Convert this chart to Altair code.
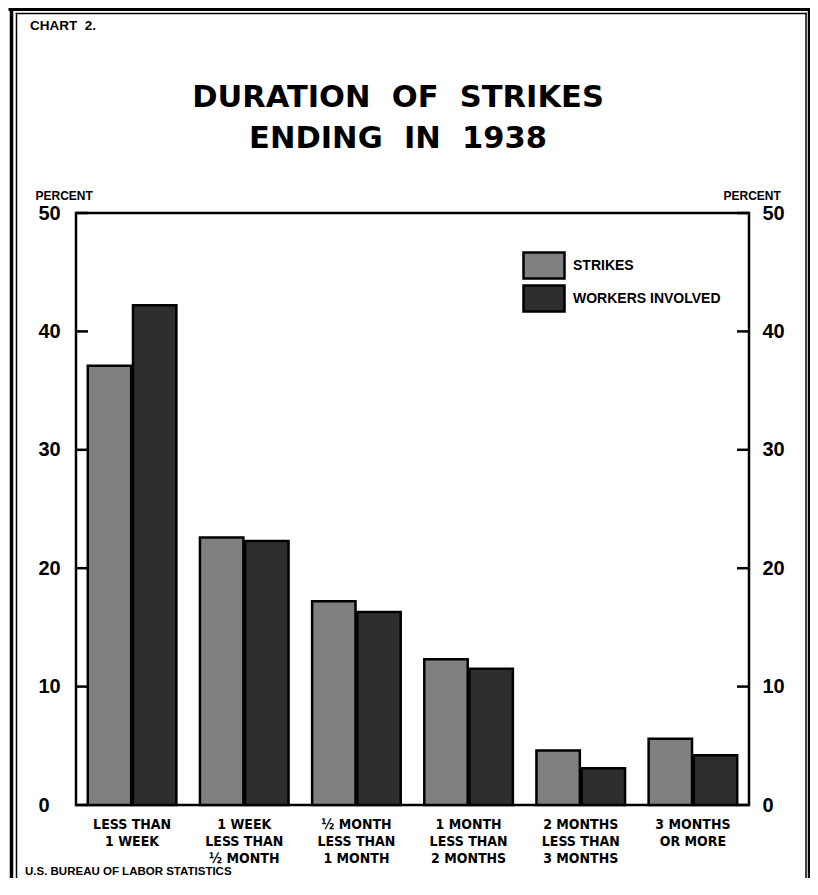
import altair as alt
import pandas as pd

# ---- data ----
categories = [
    "LESS THAN|1 WEEK",
    "1 WEEK|LESS THAN|½ MONTH",
    "½ MONTH|LESS THAN|1 MONTH",
    "1 MONTH|LESS THAN|2 MONTHS",
    "2 MONTHS|LESS THAN|3 MONTHS",
    "3 MONTHS|OR MORE",
]
series_names = ["STRIKES", "WORKERS INVOLVED"]
strikes = [37.1, 22.6, 17.2, 12.3, 4.6, 5.6]
workers = [42.2, 22.3, 16.3, 11.5, 3.1, 4.2]
tick_values = [0, 10, 20, 30, 40, 50]

title_lines = ["DURATION\u00a0 OF\u00a0 STRIKES", "ENDING\u00a0 IN\u00a0 1938"]
chart_label = "CHART\u00a0 2."
source_label = "U.S. BUREAU OF LABOR STATISTICS"

rows = []
for c, s, w in zip(categories, strikes, workers):
    rows.append({"duration": c, "series": series_names[0], "percent": s})
    rows.append({"duration": c, "series": series_names[1], "percent": w})
df = pd.DataFrame(rows)
ticks_df = pd.DataFrame({"tick": tick_values})

W, H = 673, 592
FONT = "Liberation Sans"
NARROW = "Liberation Sans Narrow, DejaVu Sans Condensed, Liberation Sans"
TITLE_FONT = "DejaVu Sans"


def yscale():
    return alt.Scale(domain=[0, 50], nice=False, zero=True)


bars = alt.Chart(df).mark_bar(stroke="black", strokeWidth=2.5, strokeJoin="miter").encode(
    x=alt.X(
        "duration:N", sort=categories, title=None,
        scale=alt.Scale(paddingInner=0.21, paddingOuter=0.105),
        axis=alt.Axis(
            labelExpr="split(datum.label, '|')", ticks=False, domain=False, grid=False,
            labelAngle=0, labelFont=NARROW, labelFontSize=14, labelFontWeight="bold",
            labelLineHeight=17, labelBaseline="top", labelPadding=12, labelColor="black",
        ),
    ),
    xOffset=alt.XOffset("series:N", sort=series_names, scale=alt.Scale(paddingInner=0.04)),
    y=alt.Y(
        "percent:Q", scale=yscale(),
        axis=alt.Axis(
            orient="left", values=tick_values, ticks=False, domain=False, grid=False,
            labelAlign="left", labelPadding=38, labelFontSize=20, labelFont=FONT,
            labelFontWeight="bold", labelColor="black", labelBaseline="middle",
            title="PERCENT", titleAngle=0, titleAlign="left", titleBaseline="alphabetic",
            titleX=-41, titleY=-14, titleFont=FONT, titleFontSize=12,
            titleFontWeight="bold", titleColor="black",
        ),
    ),
    color=alt.Color(
        "series:N", sort=series_names,
        scale=alt.Scale(domain=series_names, range=["#808080", "#2e2e2e"]),
        legend=alt.Legend(
            title=None, orient="none", legendX=453.5, legendY=38,
            symbolType="M-1.577,-1H1.577V1H-1.577Z", symbolSize=676,
            symbolStrokeColor="black", symbolStrokeWidth=2.5, symbolOpacity=1,
            labelFont=FONT, labelFontSize=14, labelFontWeight="bold", labelColor="black",
            labelOffset=14.5, rowPadding=-6, padding=0, direction="vertical",
        ),
    ),
)

left_ticks = alt.Chart(ticks_df).mark_rule(color="black", strokeWidth=2.5).encode(
    y=alt.Y("tick:Q", scale=yscale(), axis=None),
    x=alt.value(0), x2=alt.value(12),
)

right_ticks = alt.Chart(ticks_df).mark_rule(color="black", strokeWidth=2.5).encode(
    y=alt.Y(
        "tick:Q", scale=yscale(),
        axis=alt.Axis(
            orient="right", values=tick_values, ticks=False, domain=False, grid=False,
            labelAlign="left", labelPadding=13, labelFontSize=20, labelFont=FONT,
            labelFontWeight="bold", labelColor="black", labelBaseline="middle",
            title="PERCENT", titleAngle=0, titleAlign="left", titleBaseline="alphabetic",
            titleX=-26, titleY=-14, titleFont=FONT, titleFontSize=12,
            titleFontWeight="bold", titleColor="black",
        ),
    ),
    x=alt.value(W - 12), x2=alt.value(W),
)

one = alt.Data(values=[{"k": 0}])


def frame_line(x1, y1, x2, y2, w):
    return alt.Chart(one).mark_rule(color="black", strokeWidth=w, strokeCap="square").encode(
        x=alt.value(x1), y=alt.value(y1), x2=alt.value(x2), y2=alt.value(y2)
    )


frame = [
    frame_line(-64.5, -203.5, -64.5, 700, 3.5),   # outer left
    frame_line(-59.5, -199.5, -59.5, 700, 1.5),   # inner left
    frame_line(-66, -203.5, 740, -203.5, 3),      # outer top
    frame_line(-59.5, -199.5, 730, -199.5, 1.5),  # inner top
    frame_line(730, -199.5, 730, 700, 1.5),       # inner right
    frame_line(733, -203.5, 733, 700, 2.5),       # outer right
]

chart_text = alt.Chart(one).mark_text(
    text=chart_label, font=FONT, fontSize=13.5, fontWeight="bold", align="left",
    baseline="alphabetic", color="black",
).encode(x=alt.value(-46), y=alt.value(-183))

title_text = alt.Chart(one).mark_text(
    text=title_lines, font=TITLE_FONT, fontSize=30.5, fontWeight="bold", align="center",
    baseline="alphabetic", lineHeight=41, color="black",
).encode(x=alt.value(322), y=alt.value(-106))

source_text = alt.Chart(one).mark_text(
    text=source_label, font=FONT, fontSize=11.5, fontWeight="bold", align="left",
    baseline="alphabetic", color="black",
).encode(x=alt.value(-51), y=alt.value(662))

chart = alt.layer(
    bars, left_ticks, right_ticks, *frame, chart_text, title_text, source_text
).resolve_scale(y="independent").properties(
    width=W, height=H,
    padding={"left": 68, "top": 205, "right": 61, "bottom": 73},
    autosize=alt.AutoSizeParams(type="none"),
    background="white",
).configure_view(stroke="black", strokeWidth=2.5)

chart.save("out.html", embed_options={"renderer": "svg", "actions": False})
